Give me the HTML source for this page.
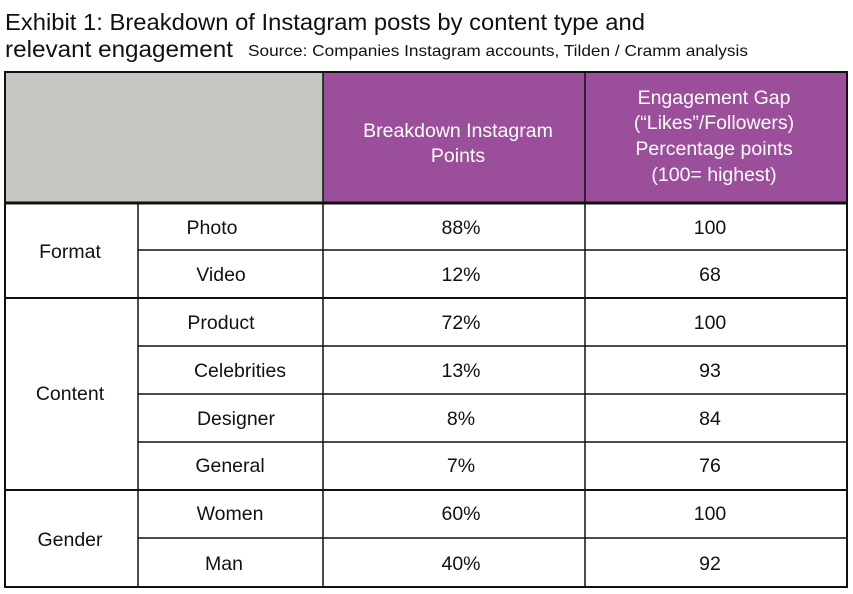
<!DOCTYPE html>
<html><head><meta charset="utf-8"><style>
body{margin:0;background:#fff;width:853px;height:594px;overflow:hidden}
svg{display:block}
</style></head><body>
<svg width="853" height="594" xmlns="http://www.w3.org/2000/svg" font-family="Liberation Sans, sans-serif">
<text x="5" y="30" font-size="23" fill="#111" textLength="640" lengthAdjust="spacingAndGlyphs">Exhibit 1: Breakdown of Instagram posts by content type and</text>
<text x="5" y="57" font-size="23" fill="#111" textLength="228" lengthAdjust="spacingAndGlyphs">relevant engagement</text>
<text x="248" y="56" font-size="16" fill="#111" textLength="500" lengthAdjust="spacingAndGlyphs">Source: Companies Instagram accounts, Tilden / Cramm analysis</text>
<rect x="5" y="72" width="318" height="131" fill="#c6c6c1"/>
<rect x="323" y="72" width="524" height="131" fill="#9b4f9b"/>
<g stroke="#111" fill="none">
<rect x="5" y="72" width="842" height="515" stroke-width="2"/>
<line x1="323" y1="72" x2="323" y2="587" stroke-width="1.5"/>
<line x1="585" y1="72" x2="585" y2="587" stroke-width="1.5"/>
<line x1="138" y1="203" x2="138" y2="587" stroke-width="1.5"/>
<line x1="5" y1="203" x2="847" y2="203" stroke-width="3"/>
<line x1="5" y1="298" x2="847" y2="298" stroke-width="2"/>
<line x1="5" y1="490" x2="847" y2="490" stroke-width="2"/>
<g stroke-width="1.5">
<line x1="138" y1="250" x2="847" y2="250"/>
<line x1="138" y1="346" x2="847" y2="346"/>
<line x1="138" y1="394" x2="847" y2="394"/>
<line x1="138" y1="442" x2="847" y2="442"/>
<line x1="138" y1="538" x2="847" y2="538"/>
</g></g>
<g fill="#fff" font-size="19.5" text-anchor="middle">
<text x="458" y="137">Breakdown Instagram</text>
<text x="458" y="162">Points</text>
<text x="714" y="104">Engagement Gap</text>
<text x="714" y="129">(“Likes”/Followers)</text>
<text x="714" y="155">Percentage points</text>
<text x="714" y="181">(100= highest)</text>
</g>
<g fill="#111" font-size="19.5" text-anchor="middle">
<text x="70" y="258">Format</text>
<text x="70" y="400">Content</text>
<text x="70" y="546">Gender</text>
<text x="212" y="234">Photo</text>
<text x="221" y="281">Video</text>
<text x="221" y="329">Product</text>
<text x="240" y="377">Celebrities</text>
<text x="236" y="425">Designer</text>
<text x="230" y="472">General</text>
<text x="230" y="520">Women</text>
<text x="224" y="570">Man</text>
<text x="461" y="234">88%</text><text x="710" y="234">100</text>
<text x="461" y="281">12%</text><text x="710" y="281">68</text>
<text x="461" y="329">72%</text><text x="710" y="329">100</text>
<text x="461" y="377">13%</text><text x="710" y="377">93</text>
<text x="461" y="425">8%</text><text x="710" y="425">84</text>
<text x="461" y="472">7%</text><text x="710" y="472">76</text>
<text x="461" y="520">60%</text><text x="710" y="520">100</text>
<text x="461" y="570">40%</text><text x="710" y="570">92</text>
</g>
</svg>
</body></html>
